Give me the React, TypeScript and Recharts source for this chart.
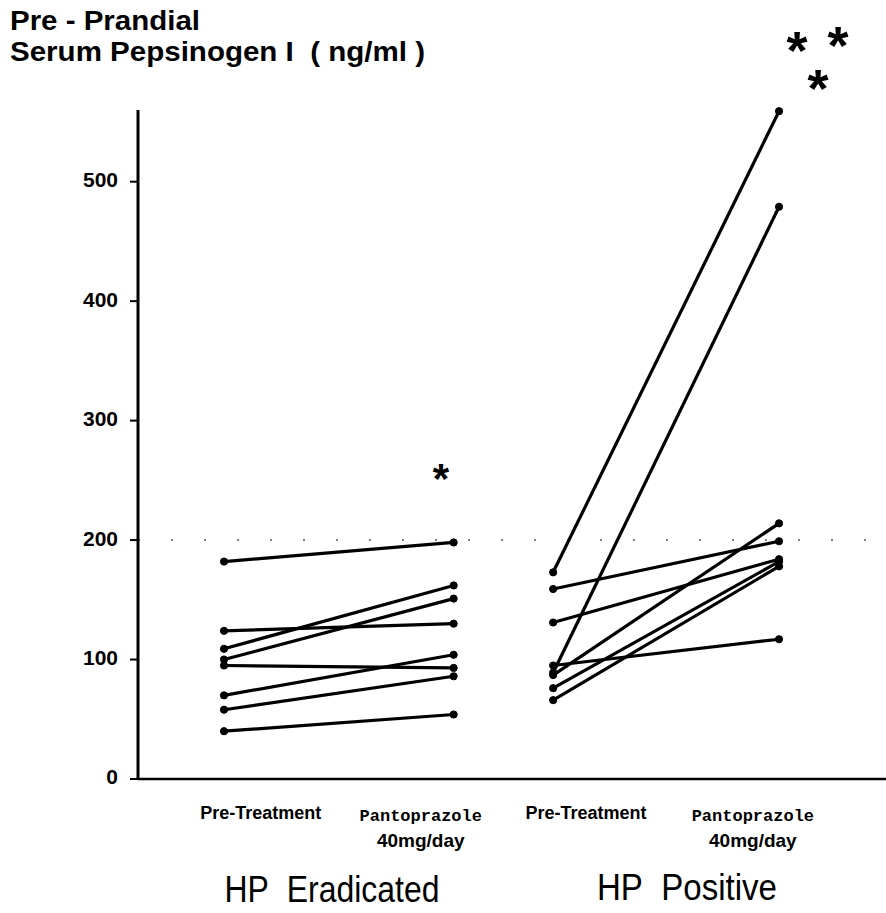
import {Line, LineChart, ReferenceLine, XAxis, YAxis} from 'recharts';

// Pre-prandial serum pepsinogen I (ng/ml), one entry per patient
const eradicatedPre = [182, 124, 109, 100, 95, 70, 58, 40];
const eradicatedPost = [198, 130, 162, 151, 93, 104, 86, 54];
const positivePre = [173, 159, 131, 89, 95, 87, 76, 66];
const positivePost = [559, 199, 184, 479, 117, 214, 182, 178];

const yTicks = [0, 100, 200, 300, 400, 500];
const timepointLabels = [
  ['Pre-Treatment'],
  ['Pantoprazole', '40mg/day'],
  ['Pre-Treatment'],
  ['Pantoprazole', '40mg/day'],
];
const groupLabels = ['HP\u00a0\u00a0Eradicated', 'HP\u00a0\u00a0Positive'];

// horizontal slots on a 0-10 axis: measurement columns and their captions
const columnX = [1.15, 4.22, 5.55, 8.57];
const timepointTickX = [1.64, 3.78, 5.99, 8.22];

const sans = '"Liberation Sans", Arial, Helvetica, sans-serif';
const mono = '"Liberation Mono", "Courier New", monospace';

const patients = [
  ...eradicatedPre.map((v, i) => [
    {x: columnX[0], y: v},
    {x: columnX[1], y: eradicatedPost[i]},
  ]),
  ...positivePre.map((v, i) => [
    {x: columnX[2], y: v},
    {x: columnX[3], y: positivePost[i]},
  ]),
];

function TimepointTick({x, y, index}: any) {
  const lines = timepointLabels[index] || [];
  if (lines.length === 1) {
    return (
      <text x={x} y={y + 40} textAnchor="middle" fontFamily={sans}
        fontWeight="bold" fontSize={18} fill="#000">
        {lines[0]}
      </text>
    );
  }
  return (
    <g>
      <text x={x} y={y + 42} textAnchor="middle" fontFamily={mono}
        fontWeight="bold" fontSize={17} fill="#000">
        {lines[0]}
      </text>
      <text x={x} y={y + 68} textAnchor="middle" fontFamily={sans}
        fontWeight="bold" fontSize={19} fill="#000">
        {lines[1]}
      </text>
    </g>
  );
}

export default function App() {
  return (
    <div style={{position: 'absolute', left: 0, top: 0, width: 886, height: 913, background: '#fff'}}>
      <LineChart width={886} height={913} margin={{top: 110, right: 0, bottom: 0, left: 0}}>
        <XAxis
          dataKey="x"
          type="number"
          domain={[0, 10]}
          ticks={timepointTickX}
          interval={0}
          height={134}
          tickSize={0}
          tickMargin={0}
          tickLine={false}
          axisLine={{stroke: '#000', strokeWidth: 2.5}}
          tick={(props: any) => <TimepointTick {...props} />}
        />
        <YAxis
          type="number"
          domain={[0, 560]}
          ticks={yTicks}
          interval={0}
          width={138}
          tickSize={8}
          tickMargin={12}
          axisLine={{stroke: '#000', strokeWidth: 3}}
          tickLine={{stroke: '#000', strokeWidth: 2}}
          tick={{fill: '#000', fontFamily: sans, fontWeight: 'bold', fontSize: 21, dy: -2}}
        />
        <ReferenceLine
          y={200}
          stroke="#555"
          strokeWidth={1.5}
          strokeDasharray="2 31"
        />
        {patients.map((pts, i) => (
          <Line
            key={i}
            data={pts}
            dataKey="y"
            stroke="#000"
            strokeWidth={3.2}
            dot={{r: 3.6, fill: '#000', stroke: '#000', strokeWidth: 1}}
            activeDot={false}
            isAnimationActive={false}
          />
        ))}
      </LineChart>
      <svg width={886} height={913}
        style={{position: 'absolute', left: 0, top: 0, pointerEvents: 'none'}}>
        <text x={10} y={30} fontFamily={sans} fontWeight="bold" fontSize={27} fill="#000"
          textLength={190} lengthAdjust="spacingAndGlyphs">
          Pre - Prandial
        </text>
        <text x={10} y={61} fontFamily={sans} fontWeight="bold" fontSize={27} fill="#000"
          textLength={415} lengthAdjust="spacingAndGlyphs">
          {'Serum Pepsinogen I\u00a0\u00a0( ng/ml )'}
        </text>
        <text x={332} y={902} textAnchor="middle" fontFamily={sans} fontSize={36} fill="#000"
          textLength={215} lengthAdjust="spacingAndGlyphs">
          {groupLabels[0]}
        </text>
        <text x={687} y={900} textAnchor="middle" fontFamily={sans} fontSize={36} fill="#000"
          textLength={180} lengthAdjust="spacingAndGlyphs">
          {groupLabels[1]}
        </text>
        <g fontFamily={sans} fontWeight="bold" fill="#000" textAnchor="middle">
          <text x={441} y={493} fontSize={42}>*</text>
          <text x={797} y={69} fontSize={54}>*</text>
          <text x={838} y={64} fontSize={54}>*</text>
          <text x={818} y={107} fontSize={54}>*</text>
        </g>
      </svg>
    </div>
  );
}
